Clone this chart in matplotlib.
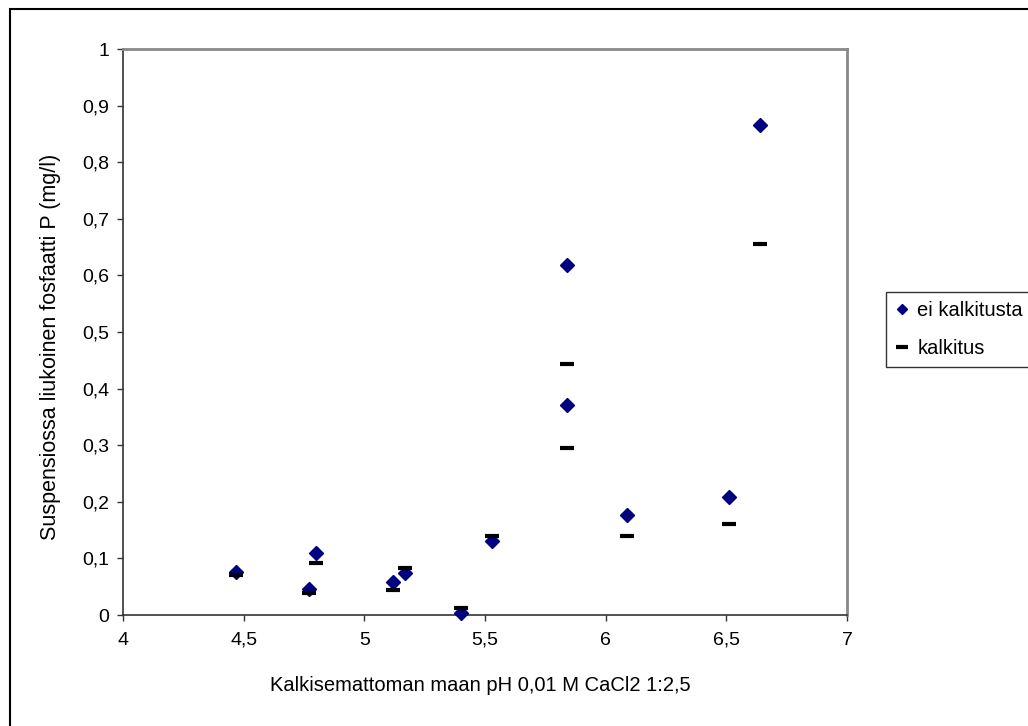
import matplotlib
matplotlib.use("Agg")
import matplotlib.pyplot as plt
from matplotlib.patches import Rectangle
from matplotlib.ticker import FuncFormatter

# ei kalkitusta (ilman kalkitusta)
ph_ei = [4.47, 4.77, 4.80, 5.12, 5.17, 5.40, 5.53, 5.84, 5.84, 6.09, 6.51, 6.64]
p_ei = [0.076, 0.046, 0.109, 0.058, 0.074, 0.003, 0.130, 0.619, 0.371, 0.177, 0.209, 0.866]

# kalkitus
ph_kalk = [4.47, 4.77, 4.80, 5.12, 5.17, 5.40, 5.53, 5.84, 5.84, 6.09, 6.51, 6.64]
p_kalk = [0.070, 0.038, 0.091, 0.044, 0.083, 0.012, 0.140, 0.444, 0.295, 0.140, 0.161, 0.655]

x_ticks = [4, 4.5, 5, 5.5, 6, 6.5, 7]
y_ticks = [0, 0.1, 0.2, 0.3, 0.4, 0.5, 0.6, 0.7, 0.8, 0.9, 1]

plt.rcParams['font.family'] = ['Liberation Sans', 'DejaVu Sans']

fig = plt.figure(figsize=(10.28, 7.26), dpi=100)
ax = fig.add_axes([123/1028, 1 - 615/726, (847 - 123)/1028, (615 - 49)/726])

ax.plot(ph_ei, p_ei, linestyle='none', marker='D', markersize=7,
        color='#000080', label='ei kalkitusta', clip_on=False, zorder=3)
ax.plot(ph_kalk, p_kalk, linestyle='none', marker='_', markersize=10,
        markeredgewidth=3, color='black', label='kalkitus', clip_on=False, zorder=4)

ax.set_xlim(4, 7)
ax.set_ylim(0, 1)
ax.set_xticks(x_ticks)
ax.set_yticks(y_ticks)
fmt = FuncFormatter(lambda v, pos: ('%g' % v).replace('.', ','))
ax.xaxis.set_major_formatter(fmt)
ax.yaxis.set_major_formatter(fmt)
ax.tick_params(direction='out', length=4, width=1, labelsize=14, color='#333333')
ax.tick_params(axis='y', pad=6)
ax.tick_params(axis='x', pad=8)

for s in ['left', 'bottom']:
    ax.spines[s].set_color('#333333')
    ax.spines[s].set_linewidth(1.2)
for s in ['top', 'right']:
    ax.spines[s].set_color('#888888')
    ax.spines[s].set_linewidth(2)

ax.set_xlabel('Kalkisemattoman maan pH 0,01 M CaCl2 1:2,5', fontsize=14.5)
ax.set_ylabel('Suspensiossa liukoinen fosfaatti P (mg/l)', fontsize=15.5)
ax.xaxis.set_label_coords(0.493, -0.107)
ax.yaxis.set_label_coords(-0.085, 0.473)

leg = fig.legend(loc='upper left', bbox_to_anchor=(886/1028, 1 - 292/726),
                 fontsize=14.5, frameon=True, fancybox=False, borderpad=0.45,
                 handlelength=0.7, handletextpad=0.4, labelspacing=0.95,
                 borderaxespad=0, markerscale=0.8)
leg.get_frame().set_edgecolor('black')
leg.get_frame().set_linewidth(1)

# outer chart border
fig.patches.append(Rectangle((10/1028, -0.1), 1.2, 1.1 - 9/726, transform=fig.transFigure,
                             fill=False, edgecolor='black', linewidth=1.5, clip_on=False))

fig.savefig('out.png', dpi=100)
